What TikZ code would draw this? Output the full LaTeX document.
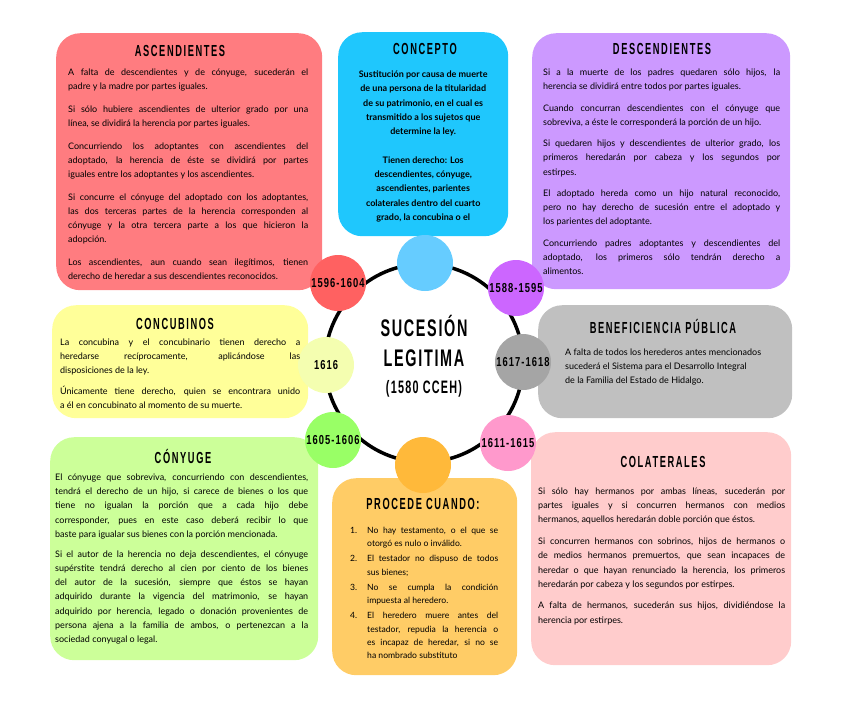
\documentclass[tikz,border=0pt]{standalone}
\usepackage{fontspec}
\setmainfont{Lato}
\newfontfamily\ttlfont[FakeStretch=0.58,LetterSpace=10]{Liberation Sans}
\newfontfamily\ctrfont[FakeStretch=0.6,LetterSpace=7]{Liberation Sans}
\newfontfamily\datefont[FakeStretch=0.72,LetterSpace=8]{Liberation Sans}
\definecolor{ascbg}{HTML}{FF7C80}
\definecolor{ascdot}{HTML}{FF6161}
\definecolor{conbg}{HTML}{1FC7FD}
\definecolor{condot}{HTML}{66CCFF}
\definecolor{descbg}{HTML}{CC99FF}
\definecolor{descdot}{HTML}{CC66FF}
\definecolor{concbg}{HTML}{FFFF99}
\definecolor{concdot}{HTML}{F4FEB0}
\definecolor{benbg}{HTML}{C0C0C0}
\definecolor{bendot}{HTML}{A5A5A5}
\definecolor{conybg}{HTML}{CCFF99}
\definecolor{conydot}{HTML}{99FF66}
\definecolor{procbg}{HTML}{FFCC66}
\definecolor{procdot}{HTML}{FFB93A}
\definecolor{colbg}{HTML}{FFCCCC}
\definecolor{coldot}{HTML}{FF99CC}
\newcommand\JLn[1]{\hbox to\hsize{\strut#1}}
\newcommand\ELn[1]{\hbox{\strut#1}}
\newcommand\CLn[1]{\hbox to\hsize{\hfil\strut#1\hfil}}
\newcommand\IJn[2]{\hbox to\hsize{\strut\hbox to17pt{#1\hfil}\hbox to\dimexpr\hsize-17pt\relax{#2}}}
\newcommand\IEn[2]{\hbox to\hsize{\strut\hbox to17pt{#1\hfil}#2\hfil}}
\tikzset{
  box/.style={rectangle, rounded corners=24pt, draw=none, anchor=north west, inner sep=0},
  ttl/.style={anchor=base, inner sep=0, font=\ttlfont\bfseries\fontsize{16pt}{18pt}\selectfont},
  body/.style={anchor=north west, inner sep=0, font=\fontsize{9pt}{14.2pt}\selectfont},
  dot/.style={circle, minimum size=56pt, inner sep=0, draw=none},
  datelbl/.style={inner sep=0, font=\datefont\bfseries\fontsize{13pt}{14pt}\selectfont},
  ctr/.style={anchor=base, inner sep=0, font=\ctrfont\bfseries\fontsize{24pt}{26pt}\selectfont},
}
\begin{document}
\begin{tikzpicture}[x=1pt,y=-1pt]
\useasboundingbox (0,0) rectangle (848,724);
% boxes
\node[box, fill=ascbg, minimum width=266pt, minimum height=257pt] (ascbox) at (56,33) {};
\node[box, fill=conbg, minimum width=170pt, minimum height=204pt] (conbox) at (338,32) {};
\node[box, fill=descbg, minimum width=258pt, minimum height=256pt] (descbox) at (532,33) {};
\node[box, fill=concbg, minimum width=256pt, minimum height=113pt] (concbox) at (52,305) {};
\node[box, fill=benbg, minimum width=254pt, minimum height=113pt] (benbox) at (538,305) {};
\node[box, fill=conybg, minimum width=268pt, minimum height=223pt] (conybox) at (50,437) {};
\node[box, fill=procbg, minimum width=185pt, minimum height=197pt] (procbox) at (332,478) {};
\node[box, fill=colbg, minimum width=260pt, minimum height=233pt] (colbox) at (531,432) {};
% main circle
\node[circle, draw=black, line width=3.5pt, minimum size=198pt, inner sep=0] (main) at (424,363) {};
% small circles
\node[dot, fill=condot] (dtop) at (425,263) {};
\node[dot, fill=ascdot] (d1596) at (338,283) {};
\node[dot, fill=descdot] (d1588) at (516,288) {};
\node[dot, fill=concdot] (d1616) at (326,365) {};
\node[dot, fill=bendot] (d1617) at (523,362) {};
\node[dot, fill=conydot] (d1605) at (333,440) {};
\node[dot, fill=coldot] (d1611) at (508,443) {};
\node[dot, fill=procdot] (dbot) at (423,465) {};
\node[datelbl] (l1596) at (d1596) {1596-1604};
\node[datelbl] (l1588) at (d1588) {1588-1595};
\node[datelbl] (l1616) at (d1616) {1616};
\node[datelbl] (l1617) at (d1617) {1617-1618};
\node[datelbl] (l1605) at (d1605) {1605-1606};
\node[datelbl] (l1611) at (d1611) {1611-1615};
% centre
\node[ctr] (c1) at (424,336.5) {SUCESIÓN};
\node[ctr] (c2) at (424,366.5) {LEGITIMA};
\node[anchor=base, inner sep=0, font=\ctrfont\bfseries\fontsize{18pt}{20pt}\selectfont] (c3) at (424,393.5) {(1580 CCEH)};
% titles
\node[ttl] (tasc) at (180,56) {ASCENDIENTES};
\node[ttl] (tcon) at (425,54) {CONCEPTO};
\node[ttl] (tdesc) at (662,54) {DESCENDIENTES};
\node[ttl] (tconc) at (175,329) {CONCUBINOS};
\node[ttl] (tben) at (663,333) {BENEFICIENCIA PÚBLICA};
\node[ttl] (tcony) at (183,463) {CÓNYUGE};
\node[ttl] (tproc) at (423,509) {PROCEDE CUANDO:};
\node[ttl] (tcol) at (663,467) {COLATERALES};
% texts
\node[body] (xasc) at (68,65.4) {\vbox{\hsize=240pt
\JLn{A falta de descendientes y de cónyuge, sucederán el}
\ELn{padre y la madre por partes iguales.}
\vskip8.4pt
\JLn{Si sólo hubiere ascendientes de ulterior grado por una}
\ELn{línea, se dividirá la herencia por partes iguales.}
\vskip8.4pt
\JLn{Concurriendo los adoptantes con ascendientes del}
\JLn{adoptado, la herencia de éste se dividirá por partes}
\ELn{iguales entre los adoptantes y los ascendientes.}
\vskip8.4pt
\JLn{Si concurre el cónyuge del adoptado con los adoptantes,}
\JLn{las dos terceras partes de la herencia corresponden al}
\JLn{cónyuge y la otra tercera parte a los que hicieron la}
\ELn{adopción.}
\vskip8.4pt
\JLn{Los ascendientes, aun cuando sean ilegítimos, tienen}
\ELn{derecho de heredar a sus descendientes reconocidos.}}};
\node[body, font=\bfseries\fontsize{9pt}{14.3pt}\selectfont] (xcon) at (343,67.3) {\vbox{\hsize=160pt
\CLn{Sustitución por causa de muerte}
\CLn{de una persona de la titularidad}
\CLn{de su patrimonio, en el cual es}
\CLn{transmitido a los sujetos que}
\CLn{determine la ley.}
\CLn{}
\CLn{Tienen derecho: Los}
\CLn{descendientes, cónyuge,}
\CLn{ascendientes, parientes}
\CLn{colaterales dentro del cuarto}
\CLn{grado, la concubina o el}}};
\node[body] (xdesc) at (543,65.4) {\vbox{\hsize=237pt
\JLn{Si a la muerte de los padres quedaren sólo hijos, la}
\ELn{herencia se dividirá entre todos por partes iguales.}
\vskip7.2pt
\JLn{Cuando concurran descendientes con el cónyuge que}
\ELn{sobreviva, a éste le corresponderá la porción de un hijo.}
\vskip7.2pt
\JLn{Si quedaren hijos y descendientes de ulterior grado, los}
\JLn{primeros heredarán por cabeza y los segundos por}
\ELn{estirpes.}
\vskip7.2pt
\JLn{El adoptado hereda como un hijo natural reconocido,}
\JLn{pero no hay derecho de sucesión entre el adoptado y}
\ELn{los parientes del adoptante.}
\vskip7.2pt
\JLn{Concurriendo padres adoptantes y descendientes del}
\JLn{adoptado, los primeros sólo tendrán derecho a}
\ELn{alimentos.}}};
\node[body] (xconc) at (60,335.4) {\vbox{\hsize=240pt
\JLn{La concubina y el concubinario tienen derecho a}
\JLn{heredarse recíprocamente, aplicándose las}
\ELn{disposiciones de la ley.}
\vskip6.5pt
\JLn{Únicamente tiene derecho, quien se encontrara unido}
\ELn{a él en concubinato al momento de su muerte.}}};
\node[body] (xben) at (565,345.4) {\vbox{\hsize=215pt
\ELn{A falta de todos los herederos antes mencionados}
\ELn{sucederá el Sistema para el Desarrollo Integral}
\ELn{de la Familia del Estado de Hidalgo.}}};
\node[body] (xcony) at (55,470.4) {\vbox{\hsize=253pt
\JLn{El cónyuge que sobreviva, concurriendo con descendientes,}
\JLn{tendrá el derecho de un hijo, si carece de bienes o los que}
\JLn{tiene no igualan la porción que a cada hijo debe}
\JLn{corresponder, pues en este caso deberá recibir lo que}
\ELn{baste para igualar sus bienes con la porción mencionada.}
\vskip5.8pt
\JLn{Si el autor de la herencia no deja descendientes, el cónyuge}
\JLn{supérstite tendrá derecho al cien por ciento de los bienes}
\JLn{del autor de la sucesión, siempre que éstos se hayan}
\JLn{adquirido durante la vigencia del matrimonio, se hayan}
\JLn{adquirido por herencia, legado o donación provenientes de}
\JLn{persona ajena a la familia de ambos, o pertenezcan a la}
\ELn{sociedad conyugal o legal.}}};
\node[body, font=\fontsize{8.6pt}{13.4pt}\selectfont] (xproc) at (350,523.9) {\vbox{\hsize=148pt
\IJn{1.}{No hay testamento, o el que se}
\IEn{}{otorgó es nulo o inválido.}
\vskip1.6pt
\IJn{2.}{El testador no dispuso de todos}
\IEn{}{sus bienes;}
\vskip1.6pt
\IJn{3.}{No se cumpla la condición}
\IEn{}{impuesta al heredero.}
\vskip1.6pt
\IJn{4.}{El heredero muere antes del}
\IJn{}{testador, repudia la herencia o}
\IJn{}{es incapaz de heredar, si no se}
\IEn{}{ha nombrado substituto}}};
\node[body] (xcol) at (538,484.4) {\vbox{\hsize=247pt
\JLn{Si sólo hay hermanos por ambas líneas, sucederán por}
\JLn{partes iguales y si concurren hermanos con medios}
\ELn{hermanos, aquellos heredarán doble porción que éstos.}
\vskip7.5pt
\JLn{Si concurren hermanos con sobrinos, hijos de hermanos o}
\JLn{de medios hermanos premuertos, que sean incapaces de}
\JLn{heredar o que hayan renunciado la herencia, los primeros}
\ELn{heredarán por cabeza y los segundos por estirpes.}
\vskip7.5pt
\JLn{A falta de hermanos, sucederán sus hijos, dividiéndose la}
\ELn{herencia por estirpes.}}};
\end{tikzpicture}
\end{document}
